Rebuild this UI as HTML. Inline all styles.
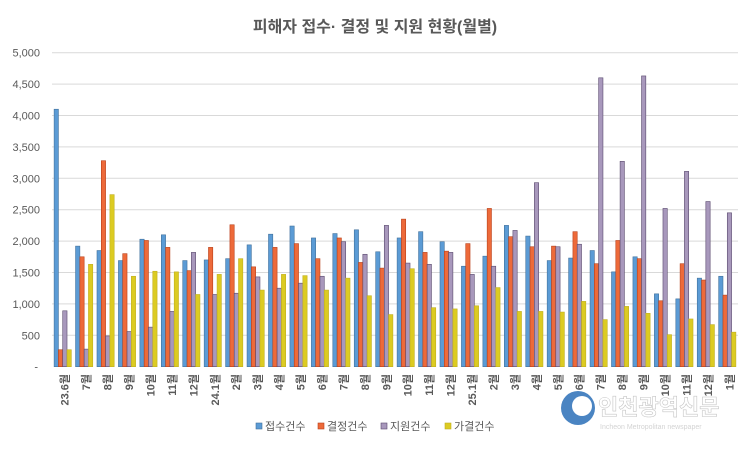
<!DOCTYPE html>
<html><head><meta charset="utf-8"><style>
body{margin:0;background:#fff;width:750px;height:444px;overflow:hidden;font-family:"Liberation Sans","Noto Sans CJK KR",sans-serif}
svg text{font-family:"Liberation Sans","Noto Sans CJK KR",sans-serif}
</style></head><body>
<svg id="c" width="750" height="444"></svg>
<script>
const categories=["23.6월","7월","8월","9월","10월","11월","12월","24.1월","2월","3월","4월","5월","6월","7월","8월","9월","10월","11월","12월","25.1월","2월","3월","4월","5월","6월","7월","8월","9월","10월","11월","12월","1월"];
const intake=[4100,1920,1850,1690,2030,2100,1690,1700,1720,1940,2110,2240,2050,2120,2180,1830,2050,2150,1990,1600,1760,2250,2080,1690,1730,1850,1510,1750,1160,1080,1410,1440];
const decision=[270,1750,3280,1800,2010,1900,1530,1900,2260,1590,1900,1960,1720,2050,1660,1570,2350,1820,1840,1960,2520,2070,1910,1920,2150,1640,2010,1720,1050,1640,1380,1140];
const support=[890,280,490,560,630,880,1820,1150,1170,1430,1250,1330,1440,1990,1790,2250,1650,1630,1820,1470,1600,2170,2930,1910,1950,4600,3270,4630,2520,3110,2630,2450];
const settled=[270,1630,2740,1440,1520,1510,1150,1470,1720,1220,1470,1450,1220,1410,1130,830,1560,940,920,970,1260,880,880,870,1040,750,960,850,510,760,670,550];
const yTicks=[0,500,1000,1500,2000,2500,3000,3500,4000,4500,5000];
const tickLabels=["-","500","1,000","1,500","2,000","2,500","3,000","3,500","4,000","4,500","5,000"];
const seriesNames=["접수건수","결정건수","지원건수","가결건수"];
const series=[intake,decision,support,settled];
const fills=["#5b9bd5","#ed6a3a","#a898bc","#dccb22"];
const strokes=["#41719c","#b8401a","#5a4a6e","#c0b020"];
const NS="http://www.w3.org/2000/svg";
const svg=document.getElementById('c');
const L=52,R=738,T=52.7,B=366.7,max=5000;
const y=v=>B-(v/max)*(B-T);
const gw=(R-L)/categories.length;
const x=i=>L+gw*i;
function el(t,a,p){const e=document.createElementNS(NS,t);for(const k in a)e.setAttribute(k,a[k]);(p||svg).appendChild(e);return e;}
const title=el('text',{x:375,y:32,'text-anchor':'middle','font-size':16,'font-weight':'bold',fill:'#595959'});
title.textContent="피해자 접수· 결정 및 지원 현황(월별)";


yTicks.forEach((t,i)=>{
  if(i>0){const g=el('line',{x1:L,x2:R,y1:y(t),y2:y(t),stroke:'#d9d9d9','stroke-width':1});
  
  }
  const tx=el('text',{x:i===0?38:40,y:y(t)+4,'text-anchor':'end','font-size':11,fill:'#595959'});
  tx.textContent=tickLabels[i];
  
  
});
const bw=4.3;
categories.forEach((c,i)=>{
  const start=x(i)+(gw-4*bw)/2;
  series.forEach((s,k)=>{
    const v=s[i];
    const r=el('rect',{x:start+k*bw,y:y(v),width:bw,height:B-y(v),fill:fills[k],stroke:strokes[k],'stroke-width':0.6});
    
    
  });
  const cx=x(i)+gw/2+6;
  const tx=el('text',{x:0,y:0,'text-anchor':'end','font-size':11,'font-weight':'bold',fill:'#595959',transform:`translate(${cx},374) rotate(-90)`});
  tx.textContent=c;
  
  
});
const lx=[256,318,381,445];
seriesNames.forEach((n,k)=>{
  const g=el('g',{});
  
  
  el('rect',{x:lx[k],y:423,width:6,height:6,fill:fills[k],stroke:strokes[k],'stroke-width':0.6},g);
  const t=el('text',{x:lx[k]+9,y:430,'font-size':11,fill:'#595959'},g);
  t.textContent=n;
});
const wm=el('g',{opacity:0.85});


el('circle',{cx:578,cy:408,r:17,fill:'#2b6fb8'},wm);
el('circle',{cx:582,cy:406,r:10,fill:'#ffffff'},wm);
const wt=el('text',{x:598,y:415,'font-size':22,'font-weight':'bold',fill:'#ffffff',stroke:'#bbb','stroke-width':0.6},wm);
wt.textContent="인천광역신문";
const ws=el('text',{x:600,y:429,'font-size':7,fill:'#ccc'},wm);
ws.textContent="Incheon Metropolitan newspaper";
</script>
</body></html>
